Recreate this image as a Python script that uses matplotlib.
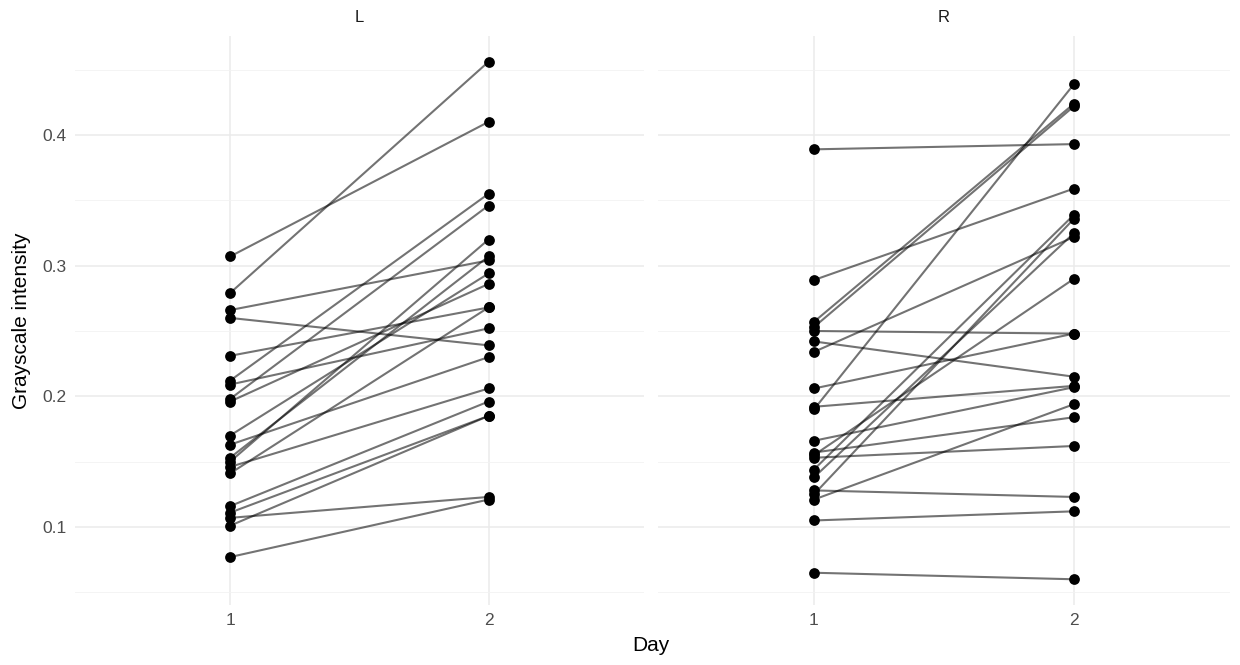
import matplotlib
matplotlib.use("Agg")
import matplotlib.pyplot as plt
import numpy as np

plt.rcParams["font.family"] = ["Liberation Sans", "DejaVu Sans"]

days = [1, 2]
facets = ["L", "R"]

# each pair: (day 1 value, day 2 value)
left_day1 = [0.307, 0.279, 0.266, 0.260, 0.231, 0.212, 0.209, 0.198, 0.196, 0.170,
             0.163, 0.153, 0.150, 0.146, 0.141, 0.116, 0.111, 0.107, 0.101, 0.077]
left_day2 = [0.410, 0.456, 0.304, 0.239, 0.268, 0.355, 0.252, 0.346, 0.286, 0.294,
             0.230, 0.307, 0.320, 0.206, 0.268, 0.196, 0.185, 0.123, 0.185, 0.121]

right_day1 = [0.389, 0.289, 0.257, 0.253, 0.250, 0.242, 0.234, 0.206, 0.192, 0.190,
              0.166, 0.157, 0.155, 0.153, 0.144, 0.138, 0.128, 0.125, 0.121, 0.105, 0.065]
right_day2 = [0.393, 0.359, 0.424, 0.422, 0.248, 0.215, 0.322, 0.248, 0.208, 0.439,
              0.207, 0.184, 0.290, 0.162, 0.339, 0.325, 0.123, 0.336, 0.194, 0.112, 0.060]

y_ticks = [0.1, 0.2, 0.3, 0.4]
y_minor = [0.05, 0.15, 0.25, 0.35, 0.45]

fig = plt.figure(figsize=(12.4, 6.65), dpi=100)
ax_l = fig.add_axes([0.0605, 0.090, 0.4585, 0.856])
ax_r = fig.add_axes([0.5306, 0.090, 0.4614, 0.856], sharey=ax_l)

all_vals = left_day1 + left_day2 + right_day1 + right_day2
lo, hi = min(all_vals), max(all_vals)
pad = (hi - lo) * 0.05

for ax, name, d1, d2 in [(ax_l, "L", left_day1, left_day2), (ax_r, "R", right_day1, right_day2)]:
    for a, b in zip(d1, d2):
        ax.plot(days, [a, b], color="black", alpha=0.55, lw=1.5, zorder=2)
    ax.scatter([1] * len(d1), d1, s=60, color="black", zorder=3, linewidths=0)
    ax.scatter([2] * len(d2), d2, s=60, color="black", zorder=3, linewidths=0)

    ax.set_xlim(0.4, 2.6)
    ax.set_ylim(lo - pad, hi + pad)
    ax.set_xticks(days)
    ax.set_xticklabels([str(d) for d in days])
    ax.set_yticks(y_ticks)
    ax.set_yticks(y_minor, minor=True)
    ax.grid(True, which="major", color="#EBEBEB", lw=1.1)
    ax.grid(True, which="minor", axis="y", color="#F2F2F2", lw=0.6)
    ax.set_axisbelow(True)
    for s in ax.spines.values():
        s.set_visible(False)
    ax.tick_params(which="both", length=0, labelsize=12.5, colors="#4D4D4D", pad=6)
    ax.set_title(name, fontsize=12, color="#1A1A1A", pad=10)

ax_r.tick_params(axis="y", labelleft=False)
ax_l.set_ylabel("Grayscale intensity", fontsize=15, color="black", labelpad=8)
fig.text(0.525, 0.030, "Day", ha="center", va="center", fontsize=15)

fig.savefig("out.png", dpi=100, facecolor="white")
